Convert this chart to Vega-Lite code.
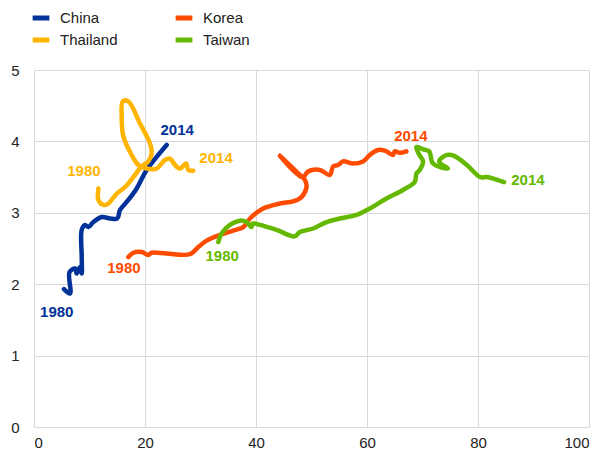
{
  "$schema": "https://vega.github.io/schema/vega-lite/v6.json",
  "autosize": "none",
  "width": 555,
  "height": 357,
  "padding": {"left": 34, "top": 70, "right": 14, "bottom": 25},
  "background": "white",
  "config": {
    "view": {"stroke": null},
    "font": "Liberation Sans",
    "axis": {"labelFont": "Liberation Sans", "labelFontSize": 15, "labelColor": "#222222", "gridColor": "#d9d9d9", "gridWidth": 1, "domain": false, "ticks": false, "title": null}
  },
  "datasets": {
    "paths": [
      {"country": "China", "i": 0, "x": 5.4, "y": 1.93},
      {"country": "China", "i": 1, "x": 6.5, "y": 1.87},
      {"country": "China", "i": 2, "x": 6.4, "y": 2.17},
      {"country": "China", "i": 3, "x": 7.4, "y": 2.22},
      {"country": "China", "i": 4, "x": 7.7, "y": 2.15},
      {"country": "China", "i": 5, "x": 8.3, "y": 2.24},
      {"country": "China", "i": 6, "x": 8.6, "y": 2.15},
      {"country": "China", "i": 7, "x": 8.6, "y": 2.38},
      {"country": "China", "i": 8, "x": 8.6, "y": 2.76},
      {"country": "China", "i": 9, "x": 9.2, "y": 2.83},
      {"country": "China", "i": 10, "x": 9.8, "y": 2.8},
      {"country": "China", "i": 11, "x": 10.7, "y": 2.87},
      {"country": "China", "i": 12, "x": 12.2, "y": 2.94},
      {"country": "China", "i": 13, "x": 13.7, "y": 2.92},
      {"country": "China", "i": 14, "x": 15.0, "y": 2.92},
      {"country": "China", "i": 15, "x": 15.5, "y": 3.04},
      {"country": "China", "i": 16, "x": 17.0, "y": 3.18},
      {"country": "China", "i": 17, "x": 18.5, "y": 3.34},
      {"country": "China", "i": 18, "x": 20.3, "y": 3.6},
      {"country": "China", "i": 19, "x": 23.9, "y": 3.95},

      {"country": "Thailand", "i": 0, "x": 11.6, "y": 3.34},
      {"country": "Thailand", "i": 1, "x": 11.6, "y": 3.18},
      {"country": "Thailand", "i": 2, "x": 12.5, "y": 3.11},
      {"country": "Thailand", "i": 3, "x": 13.4, "y": 3.13},
      {"country": "Thailand", "i": 4, "x": 14.9, "y": 3.27},
      {"country": "Thailand", "i": 5, "x": 16.4, "y": 3.36},
      {"country": "Thailand", "i": 6, "x": 17.9, "y": 3.5},
      {"country": "Thailand", "i": 7, "x": 19.4, "y": 3.65},
      {"country": "Thailand", "i": 8, "x": 20.6, "y": 3.72},
      {"country": "Thailand", "i": 9, "x": 21.2, "y": 3.83},
      {"country": "Thailand", "i": 10, "x": 20.9, "y": 3.97},
      {"country": "Thailand", "i": 11, "x": 19.1, "y": 4.25},
      {"country": "Thailand", "i": 12, "x": 17.0, "y": 4.56},
      {"country": "Thailand", "i": 13, "x": 16.0, "y": 4.56},
      {"country": "Thailand", "i": 14, "x": 15.8, "y": 4.35},
      {"country": "Thailand", "i": 15, "x": 16.1, "y": 4.07},
      {"country": "Thailand", "i": 16, "x": 17.6, "y": 3.81},
      {"country": "Thailand", "i": 17, "x": 18.8, "y": 3.67},
      {"country": "Thailand", "i": 18, "x": 20.3, "y": 3.62},
      {"country": "Thailand", "i": 19, "x": 22.1, "y": 3.62},
      {"country": "Thailand", "i": 20, "x": 23.6, "y": 3.74},
      {"country": "Thailand", "i": 21, "x": 24.5, "y": 3.76},
      {"country": "Thailand", "i": 22, "x": 25.4, "y": 3.67},
      {"country": "Thailand", "i": 23, "x": 26.3, "y": 3.62},
      {"country": "Thailand", "i": 24, "x": 27.4, "y": 3.69},
      {"country": "Thailand", "i": 25, "x": 27.8, "y": 3.6},
      {"country": "Thailand", "i": 26, "x": 28.7, "y": 3.59},

      {"country": "Korea", "i": 0, "x": 17.0, "y": 2.38},
      {"country": "Korea", "i": 1, "x": 17.9, "y": 2.44},
      {"country": "Korea", "i": 2, "x": 19.4, "y": 2.45},
      {"country": "Korea", "i": 3, "x": 20.6, "y": 2.41},
      {"country": "Korea", "i": 4, "x": 21.2, "y": 2.44},
      {"country": "Korea", "i": 5, "x": 23.9, "y": 2.43},
      {"country": "Korea", "i": 6, "x": 28.1, "y": 2.42},
      {"country": "Korea", "i": 7, "x": 29.6, "y": 2.52},
      {"country": "Korea", "i": 8, "x": 31.1, "y": 2.61},
      {"country": "Korea", "i": 9, "x": 33.5, "y": 2.69},
      {"country": "Korea", "i": 10, "x": 35.9, "y": 2.75},
      {"country": "Korea", "i": 11, "x": 37.7, "y": 2.8},
      {"country": "Korea", "i": 12, "x": 38.9, "y": 2.92},
      {"country": "Korea", "i": 13, "x": 41.3, "y": 3.06},
      {"country": "Korea", "i": 14, "x": 44.3, "y": 3.13},
      {"country": "Korea", "i": 15, "x": 46.7, "y": 3.16},
      {"country": "Korea", "i": 16, "x": 48.2, "y": 3.22},
      {"country": "Korea", "i": 17, "x": 49.1, "y": 3.36},
      {"country": "Korea", "i": 18, "x": 48.8, "y": 3.46},
      {"country": "Korea", "i": 19, "x": 47.9, "y": 3.53},
      {"country": "Korea", "i": 20, "x": 44.3, "y": 3.8},
      {"country": "Korea", "i": 21, "x": 48.4, "y": 3.5},
      {"country": "Korea", "i": 22, "x": 49.4, "y": 3.58},
      {"country": "Korea", "i": 23, "x": 51.5, "y": 3.6},
      {"country": "Korea", "i": 24, "x": 53.3, "y": 3.53},
      {"country": "Korea", "i": 25, "x": 53.9, "y": 3.65},
      {"country": "Korea", "i": 26, "x": 54.8, "y": 3.67},
      {"country": "Korea", "i": 27, "x": 55.7, "y": 3.72},
      {"country": "Korea", "i": 28, "x": 57.5, "y": 3.69},
      {"country": "Korea", "i": 29, "x": 59.3, "y": 3.72},
      {"country": "Korea", "i": 30, "x": 60.5, "y": 3.81},
      {"country": "Korea", "i": 31, "x": 62.0, "y": 3.88},
      {"country": "Korea", "i": 32, "x": 63.2, "y": 3.87},
      {"country": "Korea", "i": 33, "x": 64.7, "y": 3.81},
      {"country": "Korea", "i": 34, "x": 65.0, "y": 3.86},
      {"country": "Korea", "i": 35, "x": 65.9, "y": 3.84},
      {"country": "Korea", "i": 36, "x": 67.1, "y": 3.86},

      {"country": "Taiwan", "i": 0, "x": 33.2, "y": 2.59},
      {"country": "Taiwan", "i": 1, "x": 33.8, "y": 2.71},
      {"country": "Taiwan", "i": 2, "x": 35.3, "y": 2.83},
      {"country": "Taiwan", "i": 3, "x": 37.1, "y": 2.89},
      {"country": "Taiwan", "i": 4, "x": 38.3, "y": 2.87},
      {"country": "Taiwan", "i": 5, "x": 39.2, "y": 2.8},
      {"country": "Taiwan", "i": 6, "x": 39.4, "y": 2.85},
      {"country": "Taiwan", "i": 7, "x": 40.7, "y": 2.83},
      {"country": "Taiwan", "i": 8, "x": 43.7, "y": 2.76},
      {"country": "Taiwan", "i": 9, "x": 47.0, "y": 2.67},
      {"country": "Taiwan", "i": 10, "x": 47.9, "y": 2.73},
      {"country": "Taiwan", "i": 11, "x": 50.3, "y": 2.78},
      {"country": "Taiwan", "i": 12, "x": 52.7, "y": 2.87},
      {"country": "Taiwan", "i": 13, "x": 55.1, "y": 2.92},
      {"country": "Taiwan", "i": 14, "x": 58.1, "y": 2.97},
      {"country": "Taiwan", "i": 15, "x": 60.5, "y": 3.06},
      {"country": "Taiwan", "i": 16, "x": 63.5, "y": 3.2},
      {"country": "Taiwan", "i": 17, "x": 66.5, "y": 3.32},
      {"country": "Taiwan", "i": 18, "x": 68.6, "y": 3.43},
      {"country": "Taiwan", "i": 19, "x": 68.9, "y": 3.55},
      {"country": "Taiwan", "i": 20, "x": 69.5, "y": 3.6},
      {"country": "Taiwan", "i": 21, "x": 70.1, "y": 3.72},
      {"country": "Taiwan", "i": 22, "x": 69.3, "y": 3.83},
      {"country": "Taiwan", "i": 23, "x": 68.9, "y": 3.92},
      {"country": "Taiwan", "i": 24, "x": 70.1, "y": 3.89},
      {"country": "Taiwan", "i": 25, "x": 71.2, "y": 3.86},
      {"country": "Taiwan", "i": 26, "x": 71.9, "y": 3.69},
      {"country": "Taiwan", "i": 27, "x": 74.6, "y": 3.62},
      {"country": "Taiwan", "i": 28, "x": 73.0, "y": 3.72},
      {"country": "Taiwan", "i": 29, "x": 74.4, "y": 3.81},
      {"country": "Taiwan", "i": 30, "x": 75.6, "y": 3.8},
      {"country": "Taiwan", "i": 31, "x": 78.0, "y": 3.67},
      {"country": "Taiwan", "i": 32, "x": 80.4, "y": 3.5},
      {"country": "Taiwan", "i": 33, "x": 81.6, "y": 3.5},
      {"country": "Taiwan", "i": 34, "x": 83.1, "y": 3.47},
      {"country": "Taiwan", "i": 35, "x": 84.7, "y": 3.43}
    ],
    "labels": [
      {"country": "China", "label": "1980", "x": 4.1, "y": 1.61},
      {"country": "China", "label": "2014", "x": 25.8, "y": 4.16},
      {"country": "Thailand", "label": "1980", "x": 9.0, "y": 3.58},
      {"country": "Thailand", "label": "2014", "x": 32.8, "y": 3.77},
      {"country": "Korea", "label": "1980", "x": 16.2, "y": 2.22},
      {"country": "Korea", "label": "2014", "x": 67.9, "y": 4.07},
      {"country": "Taiwan", "label": "1980", "x": 33.9, "y": 2.39},
      {"country": "Taiwan", "label": "2014", "x": 89.0, "y": 3.46}
    ]
  },
  "layer": [
    {
      "data": {"name": "paths"},
      "mark": {"type": "line", "strokeWidth": 4.5, "strokeCap": "round", "strokeJoin": "round", "interpolate": "catmull-rom"},
      "encoding": {
        "x": {"field": "x", "type": "quantitative", "scale": {"domain": [0, 100], "nice": false}, "axis": {"values": [0, 20, 40, 60, 80, 100], "labelPadding": 8}},
        "y": {"field": "y", "type": "quantitative", "scale": {"domain": [0, 5], "nice": false}, "axis": {"values": [0, 1, 2, 3, 4, 5], "format": "d", "labelPadding": 15}},
        "order": {"field": "i", "type": "quantitative"},
        "color": {
          "field": "country", "type": "nominal",
          "scale": {"domain": ["China", "Thailand", "Korea", "Taiwan"], "range": ["#003299", "#FFB400", "#FF4B00", "#65B800"]},
          "legend": {
            "title": null, "orient": "none", "legendX": -4, "legendY": -63, "columns": 2, "columnPadding": 47, "rowPadding": 1,
            "symbolType": "stroke", "symbolStrokeWidth": 5, "symbolSize": 280, "labelFontSize": 15, "labelFont": "Liberation Sans", "labelColor": "#222222", "labelOffset": 8
          }
        }
      }
    },
    {
      "data": {"name": "labels"},
      "mark": {"type": "text", "fontSize": 15, "fontWeight": "bold", "font": "Liberation Sans", "align": "center", "baseline": "middle"},
      "encoding": {
        "x": {"field": "x", "type": "quantitative"},
        "y": {"field": "y", "type": "quantitative"},
        "text": {"field": "label"},
        "color": {"field": "country", "type": "nominal", "legend": null}
      }
    }
  ]
}
